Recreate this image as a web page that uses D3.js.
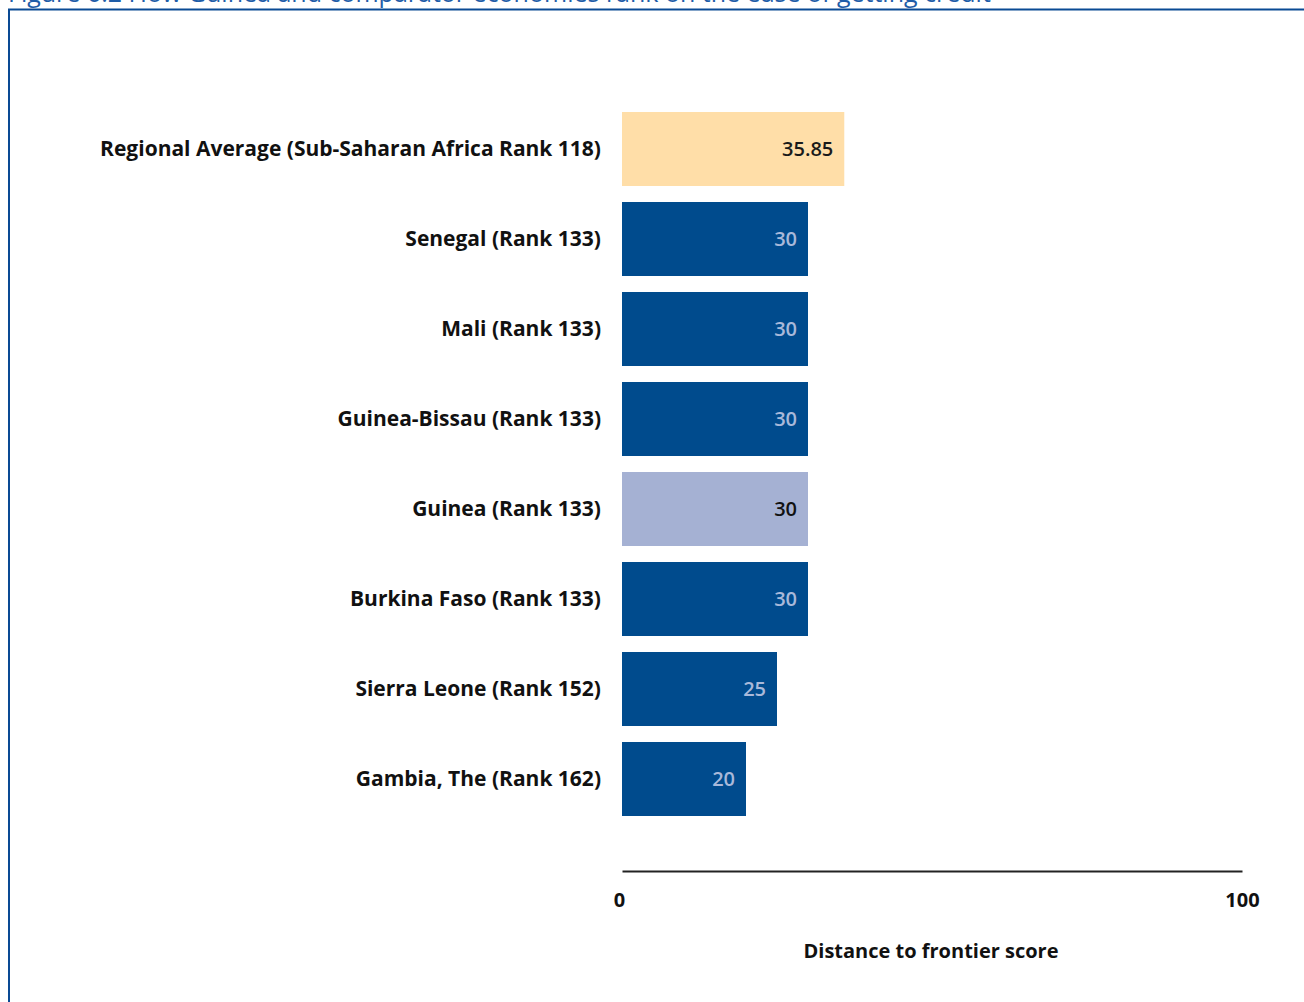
<!DOCTYPE html>
<html><head><meta charset="utf-8">
<script src="https://cdn.jsdelivr.net/npm/d3@7"></script>
<style>body{margin:0;background:#fff}svg{display:block}</style>
</head><body>
<script>
const categories = ["Regional Average (Sub-Saharan Africa Rank 118)","Senegal (Rank 133)","Mali (Rank 133)","Guinea-Bissau (Rank 133)","Guinea (Rank 133)","Burkina Faso (Rank 133)","Sierra Leone (Rank 152)","Gambia, The (Rank 162)"];
const values = [35.85,30,30,30,30,30,25,20];
const valueLabels = ["35.85","30","30","30","30","30","25","20"];
const kinds = ["region","other","other","other","focus","other","other","other"];
const xTicks = [0,100];
const title = "Figure 6.2 How Guinea and comparator economies rank on the ease of getting credit";
const axisTitle = "Distance to frontier score";

const W=1304,H=1002;
const svg=d3.select("body").append("svg").attr("width",W).attr("height",H);
const font="'Open Sans', sans-serif";
const fill={region:"#FFDEA8",other:"#004B8D",focus:"#A5B1D3"};
const labelFill={region:"#1a1a1a",other:"#A9B9DA",focus:"#111"};

// title (cropped at the top, as in the source) and frame
svg.append("text").attr("x",8).attr("y",2).attr("font-family",font).attr("font-size",25)
  .attr("fill","#1F5DA8").text(title);
svg.append("line").attr("x1",8).attr("x2",W).attr("y1",9.5).attr("y2",9.5).attr("stroke","#0A4A94").attr("stroke-width",2);
svg.append("line").attr("x1",9).attr("x2",9).attr("y1",9).attr("y2",H).attr("stroke","#0A4A94").attr("stroke-width",2);

const x=d3.scaleLinear().domain([0,100]).range([622,1242]);
const y=d3.scaleBand().domain(categories).range([103,825]).paddingInner(16/90).paddingOuter(0.1);

const g=svg.append("g");
g.selectAll("rect").data(categories).join("rect")
  .attr("x",x(0)).attr("y",d=>y(d)).attr("height",y.bandwidth())
  .attr("width",(d,i)=>x(values[i])-x(0)).attr("fill",(d,i)=>fill[kinds[i]]);
g.selectAll("text.val").data(categories).join("text").attr("class","val")
  .attr("x",(d,i)=>x(values[i])-11).attr("y",d=>y(d)+y.bandwidth()/2)
  .attr("dy","0.35em").attr("text-anchor","end").attr("font-family",font)
  .attr("font-weight",600).attr("font-size",20).attr("fill",(d,i)=>labelFill[kinds[i]])
  .text((d,i)=>valueLabels[i]);

// category axis labels
const yAxis=d3.axisLeft(y).tickSize(0).tickPadding(21);
const ya=svg.append("g").attr("transform",`translate(${x(0)},0)`).call(yAxis);
ya.select(".domain").remove();
ya.selectAll("text").attr("font-family",font).attr("font-weight",700).attr("font-size",21).attr("fill","#111");

// x axis
const xAxis=d3.axisBottom(x).tickValues(xTicks).tickSize(0).tickPadding(22).tickFormat(d3.format("d"));
const xa=svg.append("g").attr("transform","translate(0,871)").call(xAxis);
xa.select(".domain").attr("stroke","#222").attr("stroke-width",2);
xa.selectAll("text").attr("font-family",font).attr("font-weight",700).attr("font-size",20).attr("fill","#111");
xa.selectAll(".tick").filter(d=>d===0).select("text").attr("dx",-3);

svg.append("text").attr("x",(x(0)+x(100))/2-1).attr("y",958).attr("text-anchor","middle")
  .attr("font-family",font).attr("font-weight",700).attr("font-size",20).attr("fill","#111").text(axisTitle);
</script>
</body></html>
